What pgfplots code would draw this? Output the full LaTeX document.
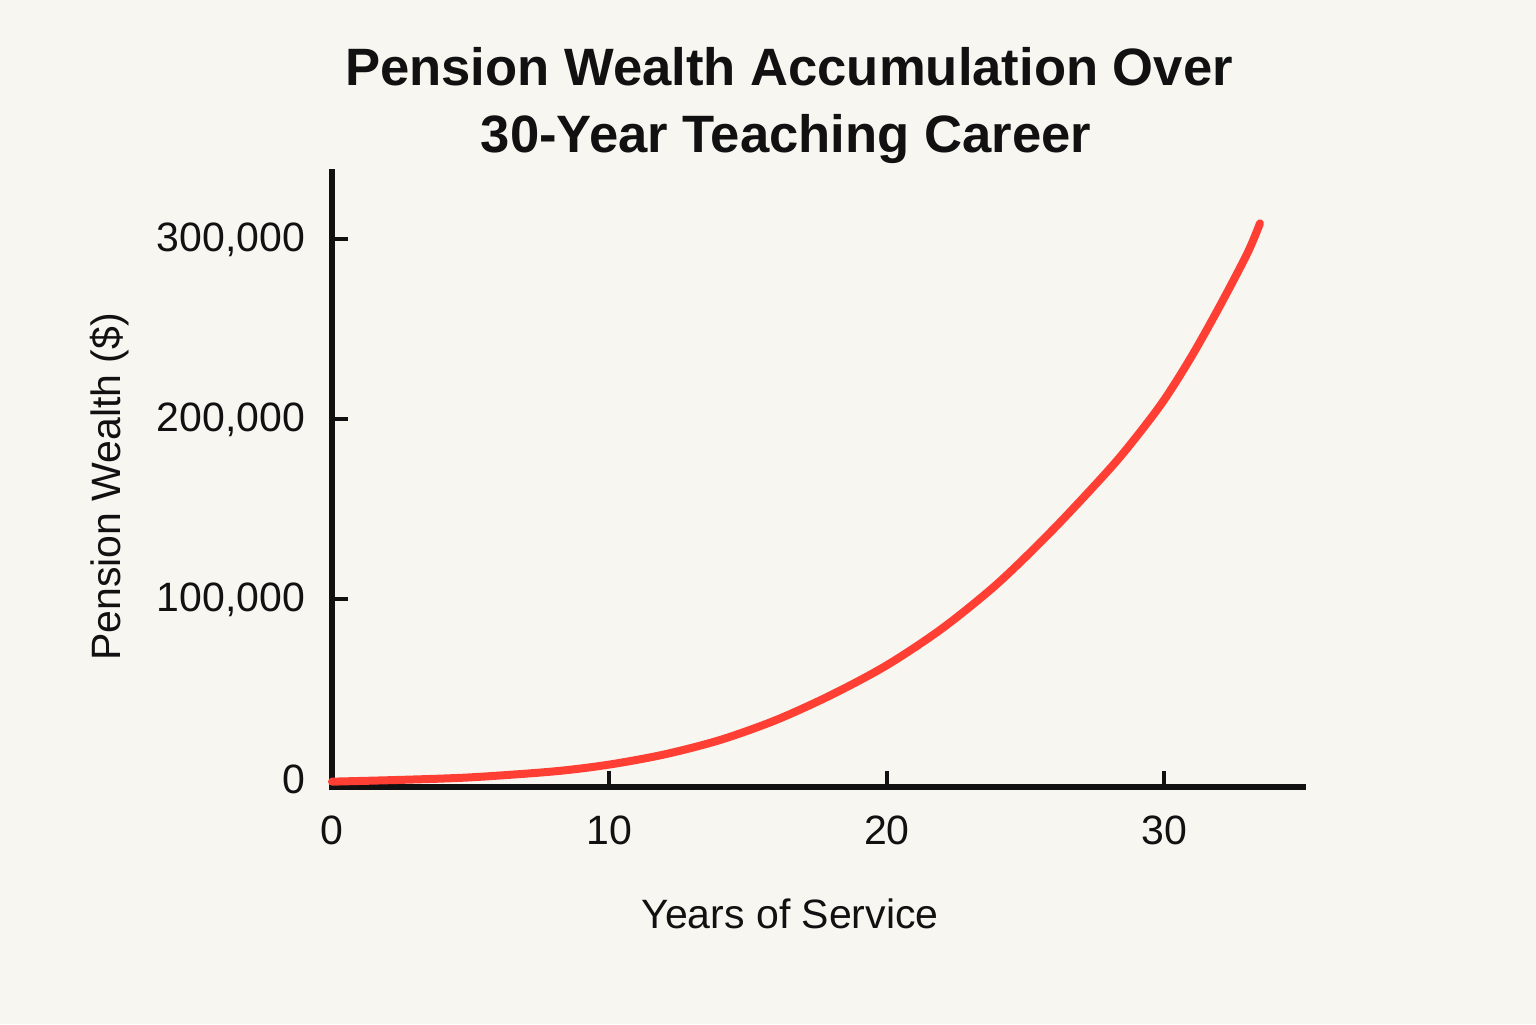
\documentclass[border=0pt]{standalone}
\usepackage{fontspec}
\setmainfont{Liberation Sans}
\usepackage{pgfplots}
\pgfplotsset{compat=1.18}

\definecolor{bg}{HTML}{F8F6F1}
\definecolor{ink}{HTML}{111111}
\definecolor{curve}{HTML}{FF3F34}

\begin{document}
\begin{tikzpicture}
% page background, 1px = 0.5pt
\fill[bg] (-166pt,-118.5pt) rectangle (602pt,393.5pt);

\begin{axis}[
    at={(0,0)}, anchor=south west,
    scale only axis,
    width=485.5pt, height=307.5pt,
    xmin=0, xmax=35,
    ymin=-4170, ymax=337500,
    axis x line*=bottom, axis y line*=left,
    axis line style={ink, line width=2.6pt, line cap=rect},
    xtick={0,10,20,30},
    xticklabels={0,10,20,30},
    ytick={0,100000,200000,300000},
    yticklabels={0,{100,000},{200,000},{300,000}},
    scaled y ticks=false,
    tick align=inside,
    major tick length=8pt,
    tick style={ink, line width=2pt},
    ticklabel style={font=\fontsize{20.5}{24}\selectfont, text=ink},
    yticklabel style={xshift=-10pt},
    xticklabel style={yshift=-11pt},
    xlabel={Years of Service},
    ylabel={Pension Wealth (\textdollar)},
    label style={font=\fontsize{20.5}{24}\selectfont, text=ink},
    xlabel style={at={(axis description cs:0.4717,0)}, anchor=base, yshift=-70.5pt},
    ylabel style={at={([xshift=-111pt]axis description cs:0,0.488)}, anchor=center},
    clip=false,
]
\addplot[curve, line width=4pt, line cap=round, smooth] coordinates {
    (0,-1200) (2.5,-200) (5,1200) (8,4500) (10,8300)
    (12,14000) (14,22000) (16,33000) (18,47000) (20,63500)
    (22,84000) (24,109000) (26,139000) (28,172000) (29,190500)
    (30,211000) (31,235500) (32,263000) (33,292500) (33.45,309000)
};
\end{axis}

\node[anchor=base, text=ink, font=\fontsize{26.3}{30}\selectfont\bfseries] at (228.5pt,350.5pt) {Pension Wealth Accumulation Over};
\node[anchor=base, text=ink, font=\fontsize{26.3}{30}\selectfont\bfseries] at (227pt,317pt) {30-Year Teaching Career};
\end{tikzpicture}
\end{document}
